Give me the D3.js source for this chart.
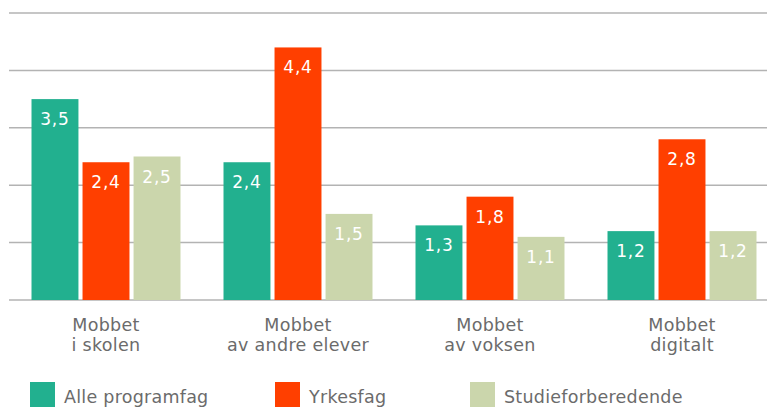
<!DOCTYPE html>
<html>
<head>
<meta charset="utf-8">
<script src="https://cdn.jsdelivr.net/npm/d3@7"></script>
<style>
	body{margin:0;background:#fff;}
	svg text{font-family:"DejaVu Sans", Verdana, sans-serif;}
</style>
</head>
<body>
<svg id="graph" width="767" height="408"></svg>
<script>
const categories = [["Mobbet", "i skolen"], ["Mobbet", "av andre elever"], ["Mobbet", "av voksen"], ["Mobbet", "digitalt"]];
const seriesNames = ["Alle programfag", "Yrkesfag", "Studieforberedende"];
const alleValues = [3.5, 2.4, 1.3, 1.2];
const yrkesValues = [2.4, 4.4, 1.8, 2.8];
const studieValues = [2.5, 1.5, 1.1, 1.2];
const yTicks = [0, 1, 2, 3, 4, 5];
const colors = ["#22b08f", "#ff3f00", "#cbd6ac"];

var graph = d3.select("#graph");
var width = 767;
var height = 408;

var seriesValues = [alleValues, yrkesValues, studieValues];

//main scales
var x = d3.scaleBand()
	.domain(d3.range(categories.length))
	.range([10, 778])
	.paddingInner(0.224)
	.paddingOuter(0.112);

var xSub = d3.scaleBand()
	.domain(d3.range(seriesNames.length))
	.range([0, x.bandwidth()])
	.paddingInner(0.08);

var y = d3.scaleLinear()
	.domain([0, 5])
	.range([300, 13]);

//gridlines
graph.selectAll(".grid")
	.data(yTicks)
	.enter()
	.append("line")
		.attr("class", "grid")
		.attr("x1", 9)
		.attr("x2", width)
		.attr("y1", d => y(d))
		.attr("y2", d => y(d))
		.attr("stroke", "#b3b3b3")
		.attr("stroke-width", 1.5);

//bars
var groups = graph.selectAll(".group")
	.data(categories)
	.enter()
	.append("g")
		.attr("class", "group")
		.attr("transform", (d, i) => "translate(" + x(i) + ",0)");

groups.each(function(c, ci){
	var g = d3.select(this);
	var vals = seriesValues.map(s => s[ci]);

	g.selectAll("rect")
		.data(vals)
		.enter()
		.append("rect")
			.attr("x", (d, i) => xSub(i))
			.attr("y", d => y(d))
			.attr("width", xSub.bandwidth())
			.attr("height", d => y(0) - y(d))
			.attr("fill", (d, i) => colors[i]);

	g.selectAll("text.value")
		.data(vals)
		.enter()
		.append("text")
			.attr("class", "value")
			.attr("x", (d, i) => xSub(i) + xSub.bandwidth() / 2)
			.attr("y", d => y(d) + 26)
			.attr("text-anchor", "middle")
			.attr("fill", "#fff")
			.style("font-size", "17px")
			.style("letter-spacing", "0.8px")
			.text(d => d.toFixed(1).replace(".", ","));
});

//category labels
var labels = graph.selectAll(".catLabel")
	.data(categories)
	.enter()
	.append("text")
		.attr("class", "catLabel")
		.attr("text-anchor", "middle")
		.attr("fill", "#6b6b6b")
		.style("font-size", "17.5px")
		.style("letter-spacing", "0.3px")
		.attr("transform", (d, i) => "translate(" + (x(i) + x.bandwidth() / 2) + ",331)");

labels.selectAll("tspan")
	.data(d => d)
	.enter()
	.append("tspan")
		.attr("x", 0)
		.attr("y", (d, i) => i * 20)
		.text(d => d);

//legend
const legendX = [30, 275, 470];
var legend = graph.selectAll(".legend")
	.data(seriesNames)
	.enter()
	.append("g")
		.attr("class", "legend")
		.attr("transform", (d, i) => "translate(" + legendX[i] + ",382)");

legend.append("rect")
	.attr("width", 25)
	.attr("height", 25)
	.attr("fill", (d, i) => colors[i]);

legend.append("text")
	.attr("x", 34)
	.attr("y", 21)
	.attr("fill", "#6b6b6b")
	.style("font-size", "17.5px")
	.style("letter-spacing", "0.25px")
	.text(d => d);
</script>
</body>
</html>
